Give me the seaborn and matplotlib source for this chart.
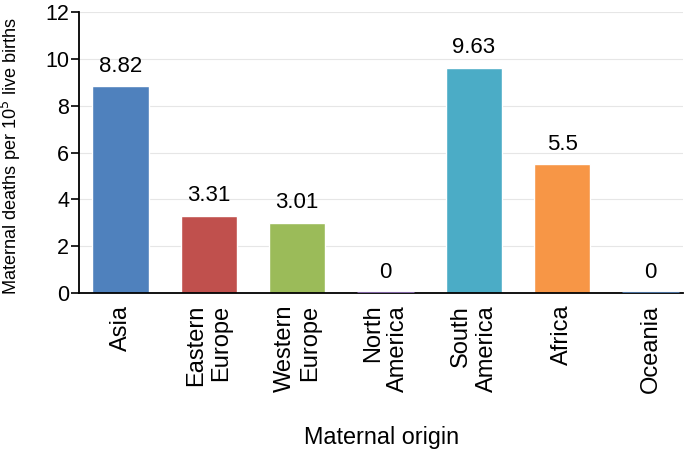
import pandas as pd
import seaborn as sns
import matplotlib.pyplot as plt

regions = ['Asia', 'Eastern\nEurope', 'Western\nEurope', 'North\nAmerica',
           'South\nAmerica', 'Africa', 'Oceania']
deaths = [8.82, 3.31, 3.01, 0, 9.63, 5.5, 0]
labels = ['8.82', '3.31', '3.01', '0', '9.63', '5.5', '0']
colors = ['#4f81bd', '#c0504d', '#9bbb59', '#8064a2', '#4bacc6', '#f79646', '#4a6f9c']

df = pd.DataFrame({'region': regions, 'deaths': deaths})

sns.set_style('white')
plt.rcParams['font.family'] = ['Liberation Sans', 'DejaVu Sans']
plt.rcParams['text.color'] = 'black'
plt.rcParams['xtick.color'] = 'black'
plt.rcParams['ytick.color'] = 'black'
plt.rcParams['axes.labelcolor'] = 'black'

fig = plt.figure(figsize=(6.85, 4.51), dpi=100)
ax = fig.add_axes([0.1153, 0.3503, 0.882, 0.623])

sns.barplot(data=df, x='region', y='deaths', hue='region', palette=colors,
            width=0.64, legend=False, ax=ax, saturation=1)
# zero-height bars still show as a thin line on the axis
for p in ax.patches:
    if p.get_height() == 0:
        p.set_linewidth(2.2)
        p.set_edgecolor(p.get_facecolor())
        p.set_zorder(3)

for i, (v, t) in enumerate(zip(deaths, labels)):
    ax.text(i, v + 0.62, t, ha='center', va='baseline', fontsize=16)

ax.set_ylim(0, 12)
ax.set_xlim(-0.47, 6.37)
ax.set_yticks(range(0, 13, 2))
ax.yaxis.grid(True, color='#e6e6e6', linewidth=0.8)
ax.set_axisbelow(True)
sns.despine(ax=ax)
for s in ['left', 'bottom']:
    ax.spines[s].set_color('black')
    ax.spines[s].set_linewidth(1.3)
ax.tick_params(axis='y', left=True, direction='out', length=6, width=1.2, labelsize=15.5, pad=1)
ax.tick_params(axis='x', bottom=False, labelsize=17, pad=5)
for lab in ax.get_xticklabels():
    lab.set_rotation(90)
    lab.set_va('top')
    lab.set_ha('center')
    lab.set_multialignment('right')

ax.set_xlabel('Maternal origin', fontsize=16.8)
ax.xaxis.set_label_coords(0.5, -0.475)
ax.set_ylabel('Maternal deaths per 10$^5$ live births', fontsize=13.1)
ax.yaxis.set_label_coords(-0.092, 0.487)

fig.savefig('out.png', dpi=100)
